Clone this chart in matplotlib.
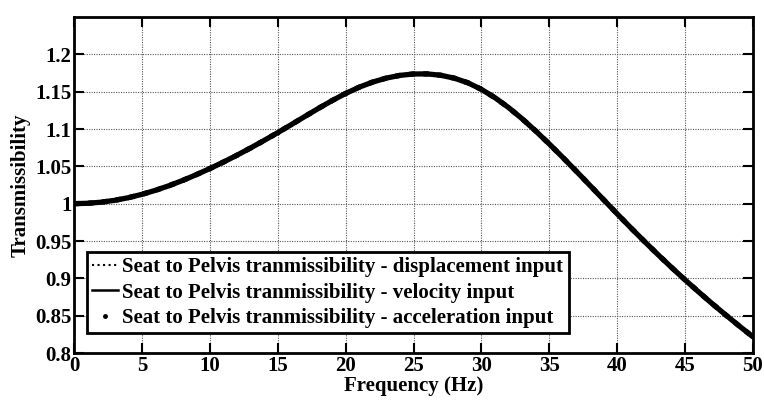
import matplotlib
matplotlib.use("Agg")
import matplotlib.pyplot as plt

freq = [0, 1, 2, 3, 4, 5, 6, 7, 8, 9, 10, 11, 12, 13, 14, 15, 16, 17, 18, 19, 20,
        21, 22, 23, 24, 25, 26, 27, 28, 29, 30, 31, 32, 33, 34, 35, 36, 37, 38, 39, 40,
        41, 42, 43, 44, 45, 46, 47, 48, 49, 50]
trans = [1.0000, 1.0005, 1.0020, 1.0045, 1.0080, 1.0125, 1.0179, 1.0241, 1.0311, 1.0388,
         1.0470, 1.0557, 1.0649, 1.0746, 1.0847, 1.0951, 1.1059, 1.1168, 1.1276, 1.1380,
         1.1476, 1.1560, 1.1629, 1.1682, 1.1718, 1.1737, 1.1738, 1.1720, 1.1681, 1.1619,
         1.1531, 1.1419, 1.1287, 1.1137, 1.0973, 1.0799, 1.0618, 1.0432, 1.0243, 1.0053,
         0.9863, 0.9677, 0.9495, 0.9318, 0.9146, 0.8979, 0.8817, 0.8660, 0.8508, 0.8360,
         0.8216]
labels = ["Seat to Pelvis tranmissibility - displacement input",
          "Seat to Pelvis tranmissibility - velocity input",
          "Seat to Pelvis tranmissibility - acceleration input"]
xticks = [0, 5, 10, 15, 20, 25, 30, 35, 40, 45, 50]
yticks = [0.8, 0.85, 0.9, 0.95, 1.0, 1.05, 1.1, 1.15, 1.2]
yticklabels = ["0.8", "0.85", "0.9", "0.95", "1", "1.05", "1.1", "1.15", "1.2"]

plt.rcParams['font.family'] = ['Liberation Serif', 'DejaVu Serif']
plt.rcParams['font.weight'] = 'bold'

fig = plt.figure(figsize=(7.64, 4.01), dpi=100)
ax = fig.add_axes([0.0969, 0.1197, 0.9856 - 0.0969, 0.9576 - 0.1197])

ax.plot(freq, trans, color='black', linestyle=':', linewidth=3.8, label=labels[0])
ax.plot(freq, trans, color='black', linestyle='-', linewidth=3.8, label=labels[1],
        solid_capstyle='round', solid_joinstyle='round')
ax.plot(freq, trans, color='black', linestyle='none', marker='.', markersize=3, label=labels[2])

ax.set_xlim(0, 50)
ax.set_ylim(0.8, 1.25)
ax.set_xticks(xticks)
ax.set_xticklabels([str(t) for t in xticks])
ax.set_yticks(yticks)
ax.set_yticklabels(yticklabels)
ax.grid(True, color='#555555', linestyle=(0, (1, 1.2)), linewidth=0.8)
ax.tick_params(direction='in', length=7, width=1.5, top=True, right=True,
               labelsize=15, pad=2)
for s in ax.spines.values():
    s.set_linewidth(2.0)

ax.set_xlabel("Frequency (Hz)", fontsize=15, fontweight='bold', labelpad=0)
ax.set_ylabel("Transmissibility", fontsize=15, fontweight='bold', labelpad=3)

leg_handles = [
    plt.Line2D([], [], color='black', linestyle=':', linewidth=1.5),
    plt.Line2D([], [], color='black', linestyle='-', linewidth=1.8),
    plt.Line2D([], [], color='black', linestyle='none', marker='.', markersize=5),
]
leg = ax.legend(leg_handles, labels, loc='lower left', bbox_to_anchor=(0.019, 0.0595),
                prop={'weight': 'bold', 'size': 15}, frameon=True,
                fancybox=False, edgecolor='black', framealpha=1, borderpad=0.25,
                labelspacing=0.25, handlelength=1.25, handletextpad=0.2, borderaxespad=0)
leg.get_frame().set_linewidth(2.0)

fig.savefig("out.png", dpi=100)
